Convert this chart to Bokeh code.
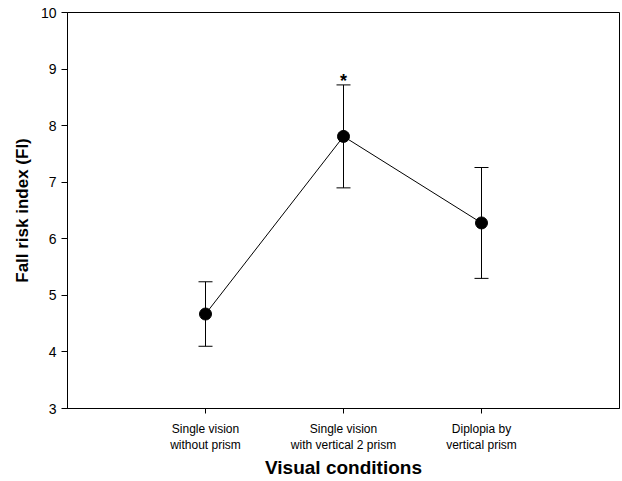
from bokeh.plotting import figure
from bokeh.models import Range1d, FixedTicker, Whisker, ColumnDataSource, TeeHead
from bokeh.embed import file_html
from bokeh.resources import INLINE
from bokeh.core.properties import value

conditions = ["Single vision\nwithout prism", "Single vision\nwith vertical 2 prism", "Diplopia by\nvertical prism"]
positions = [1, 2, 3]
means = [4.67, 7.81, 6.28]
errors = [0.57, 0.91, 0.98]
significance = ["", "*", ""]

upper = [m + e for m, e in zip(means, errors)]
lower = [m - e for m, e in zip(means, errors)]

src = ColumnDataSource(dict(x=positions, y=means, upper=upper, lower=lower, sig=significance))

p = figure(width=622, height=481, output_backend="svg", toolbar_location=None,
           x_range=Range1d(0, 4), y_range=Range1d(3, 10),
           min_border_left=67, min_border_right=3, min_border_top=12, min_border_bottom=72)
p.grid.visible = False
p.outline_line_color = "black"
p.outline_line_width = 1
p.background_fill_color = "white"
p.border_fill_color = "white"

font = "Liberation Sans"

p.xaxis.ticker = FixedTicker(ticks=positions)
p.xaxis.major_label_overrides = {pos: lab for pos, lab in zip(positions, conditions)}
p.xaxis.minor_tick_line_color = None
p.xaxis.major_tick_out = 5
p.xaxis.major_tick_in = 0
p.xaxis.major_label_text_font = font
p.xaxis.major_label_text_font_size = "12px"
p.xaxis.major_label_standoff = 8
p.xaxis.axis_label = "Visual conditions"
p.xaxis.axis_label_text_font = font
p.xaxis.axis_label_text_font_size = "19px"
p.xaxis.axis_label_text_font_style = "bold"
p.xaxis.axis_label_standoff = 2

p.yaxis.ticker = FixedTicker(ticks=[3, 4, 5, 6, 7, 8, 9, 10])
p.yaxis.minor_tick_line_color = None
p.yaxis.major_tick_out = 6
p.yaxis.major_tick_in = 0
p.yaxis.major_label_text_font = font
p.yaxis.major_label_text_font_size = "14px"
p.yaxis.major_label_standoff = 5
p.yaxis.axis_label = "Fall risk index (FI)"
p.yaxis.axis_label_text_font = font
p.yaxis.axis_label_text_font_size = "17px"
p.yaxis.axis_label_text_font_style = "bold"
p.yaxis.axis_label_standoff = 6

for ax in (p.xaxis, p.yaxis):
    ax.axis_line_color = "black"
    ax.major_tick_line_color = "black"
    ax.major_label_text_color = "black"
    ax.axis_label_text_color = "black"

w = Whisker(source=src, base="x", upper="upper", lower="lower",
            line_color="black", line_width=1,
            upper_head=TeeHead(size=14, line_color="black", line_width=1),
            lower_head=TeeHead(size=14, line_color="black", line_width=1))
p.add_layout(w)

p.line("x", "y", source=src, line_color="black", line_width=1)
p.scatter("x", "y", source=src, size=12, fill_color="black", line_color="black")

p.text("x", "upper", text="sig", source=src, text_align="center", text_baseline="bottom",
       y_offset=6, text_font=value(font), text_font_size="18px", text_font_style="bold",
       text_color="black")

open("out.html", "w").write(file_html(p, INLINE))
